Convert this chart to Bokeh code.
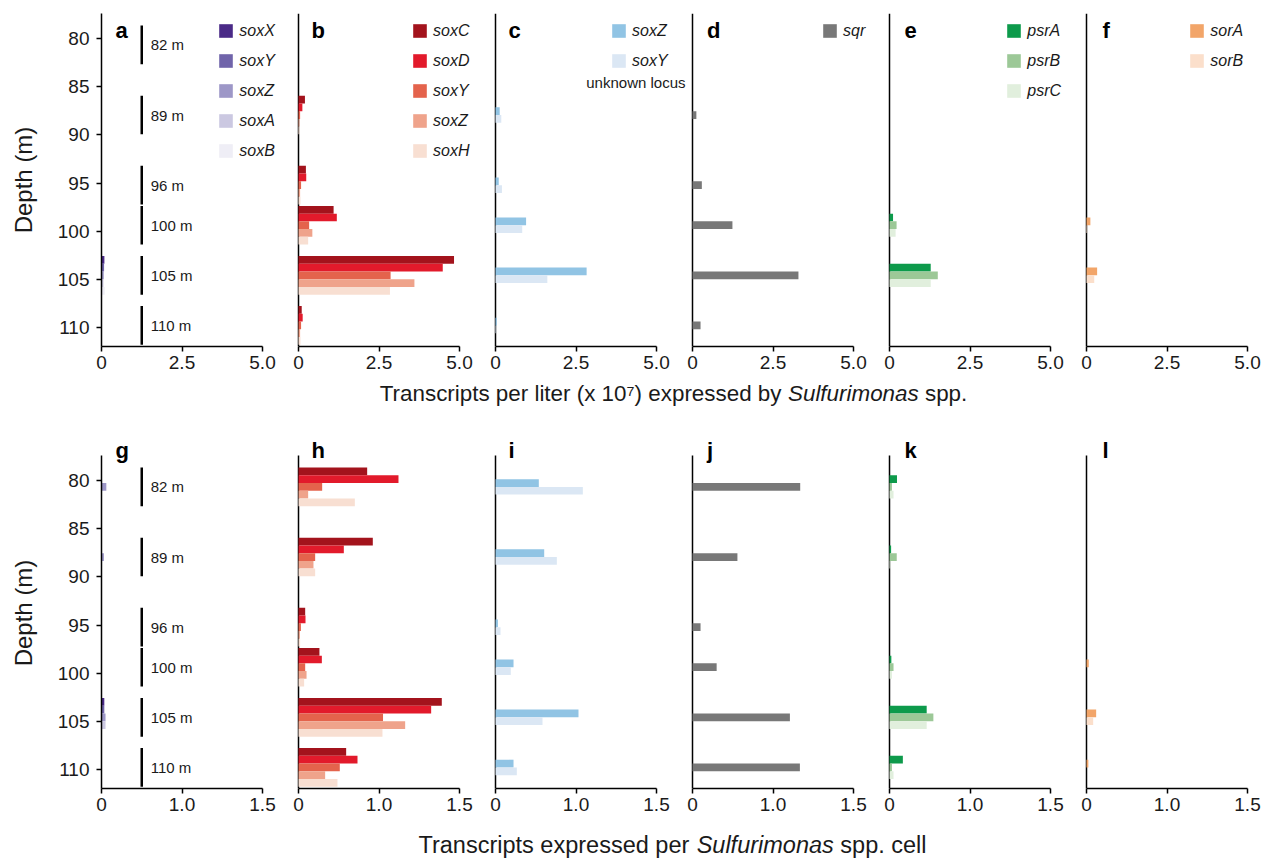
from bokeh.plotting import figure
from bokeh.models import Range1d, FixedTicker, Legend, LegendItem, Label
from bokeh.layouts import row, column
from bokeh.embed import file_html
from bokeh.resources import INLINE
from bokeh.core.properties import value

# ---------------- data ----------------
depths = [82, 89, 96, 100, 105, 110]
depth_labels = ["82 m", "89 m", "96 m", "100 m", "105 m", "110 m"]
depth_ticks = [80, 85, 90, 95, 100, 105, 110]

genes_a = ["soxX", "soxY", "soxZ", "soxA", "soxB"]
genes_b = ["soxC", "soxD", "soxY", "soxZ", "soxH"]
genes_c = ["soxZ", "soxY"]
genes_d = ["sqr"]
genes_e = ["psrA", "psrB", "psrC"]
genes_f = ["sorA", "sorB"]

# Transcripts per liter (x 10^7), one list per gene, ordered by depth
liter_a = [[0, 0, 0, 0, 0.09, 0],
           [0, 0, 0, 0, 0.08, 0],
           [0, 0, 0, 0, 0.07, 0],
           [0, 0, 0, 0, 0.06, 0],
           [0, 0, 0, 0, 0.10, 0]]
liter_b = [[0, 0.20, 0.23, 1.09, 4.83, 0.10],
           [0, 0.12, 0.24, 1.19, 4.48, 0.13],
           [0, 0.05, 0.08, 0.33, 2.86, 0.08],
           [0, 0.03, 0.05, 0.43, 3.60, 0.05],
           [0, 0.03, 0.06, 0.30, 2.84, 0.06]]
liter_c = [[0, 0.13, 0.10, 0.95, 2.83, 0.04],
           [0, 0.18, 0.20, 0.83, 1.61, 0.02]]
liter_d = [[0, 0.12, 0.29, 1.24, 3.29, 0.25]]
liter_e = [[0, 0, 0, 0.11, 1.28, 0],
           [0, 0, 0, 0.22, 1.50, 0],
           [0, 0, 0, 0.19, 1.28, 0]]
liter_f = [[0, 0, 0, 0.12, 0.33, 0],
           [0, 0, 0, 0.02, 0.24, 0]]

# Transcripts expressed per Sulfurimonas cell (drawn on the source's axis)
cell_g = [[0, 0, 0, 0, 0.035, 0],
          [0, 0, 0, 0, 0.035, 0],
          [0.06, 0.03, 0, 0, 0.05, 0],
          [0, 0, 0, 0, 0.05, 0],
          [0, 0, 0, 0, 0, 0]]
cell_h = [[0.853, 0.923, 0.083, 0.26, 1.78, 0.592],
          [1.242, 0.563, 0.087, 0.29, 1.648, 0.733],
          [0.294, 0.207, 0.03, 0.083, 1.05, 0.513],
          [0.12, 0.186, 0.017, 0.10, 1.325, 0.331],
          [0.70, 0.207, 0.02, 0.07, 1.043, 0.484]]
cell_i = [[0.538, 0.605, 0.03, 0.224, 1.031, 0.224],
          [1.085, 0.762, 0.062, 0.19, 0.584, 0.265]]
cell_j = [[1.338, 0.558, 0.10, 0.30, 1.21, 1.334]]
cell_k = [[0.093, 0.02, 0, 0.023, 0.462, 0.166],
          [0.03, 0.09, 0, 0.05, 0.545, 0.03],
          [0.05, 0.01, 0, 0.03, 0.462, 0.05]]
cell_l = [[0, 0, 0, 0.028, 0.12, 0.023],
          [0, 0, 0, 0, 0.083, 0]]

top_ticks = [0, 2.5, 5]
top_tick_labels = ["0", "2.5", "5.0"]
bottom_ticks = [0, 1, 2]
bottom_tick_labels = ["0", "1.0", "1.5"]

title_top = ["Transcripts per liter (x 10\u2077) expressed by", "Sulfurimonas", "spp."]
title_bottom = ["Transcripts expressed per", "Sulfurimonas", "spp. cell"]

# ---------------- styles / layout ----------------
colors_a = ["#4a2a87", "#7064aa", "#9d97c7", "#cbc8e1", "#efeef6"]
colors_b = ["#a3131c", "#e21a2b", "#e4634c", "#efa38b", "#f8dfd2"]
colors_c = ["#91c4e4", "#dbe7f4"]
colors_d = ["#787878"]
colors_e = ["#0d9a4b", "#9cc897", "#e1efdd"]
colors_f = ["#f2a569", "#fbdfcb"]

FONT = "Liberation Sans"
TXT = "#1a1a1a"
PAGE_W = 1262
AXW, AXH = 161, 333            # pixel extent of each panel's axes
Y_TOP, Y_BOTTOM = 77.43, 111.92
PXM = AXH / (Y_BOTTOM - Y_TOP)  # pixels per metre
BAR_H = 0.8
GROUP_SCALE, GROUP_OFFSET = 1.0377, -4.41
ZERO_X = [101, 298, 495, 692, 889, 1086]       # page x of each panel's 0
FRAME_L = [101, 292, 489, 686, 883, 1080]
FRAME_R = FRAME_L[1:] + [PAGE_W]
letter_page_x = [115, 311, 508, 706.5, 904, 1102]
legend_page_x = [219, 412.7, 611.7, 822.7, 1007, 1190]

AW = {'T': 611, 'r': 333, 'a': 556, 'n': 556, 's': 500, 'c': 500, 'i': 222,
      'p': 556, 't': 278, ' ': 278, 'e': 556, 'l': 222, '(': 333, 'x': 500,
      '1': 556, '0': 556, '\u2077': 333, ')': 333, 'd': 556, 'b': 556,
      'y': 500, 'S': 667, 'u': 556, 'f': 278, 'm': 833, 'o': 556, '.': 278}


def tw(s, size):
    return sum(AW.get(ch, 556) for ch in s) / 1000.0 * size


def centers():
    return [d * GROUP_SCALE + GROUP_OFFSET for d in depths]


def make_panel(idx, letter, genes, vals, colors, xmax, ticks, tick_labels,
               top_border, extra_top, bottom_border, letter_dy, legend, extra_label=None):
    first = idx == 0
    fw = FRAME_R[idx] - FRAME_L[idx]
    fh = AXH + extra_top
    x0 = (FRAME_L[idx] - ZERO_X[idx]) / AXW * xmax
    x1 = (FRAME_R[idx] - ZERO_X[idx]) / AXW * xmax
    p = figure(frame_width=fw, frame_height=fh,
               x_range=Range1d(x0, x1),
               y_range=Range1d(Y_BOTTOM, Y_TOP - extra_top / PXM),
               min_border_left=FRAME_L[0] if first else 0, min_border_right=0,
               min_border_top=top_border, min_border_bottom=bottom_border,
               output_backend="svg", toolbar_location=None,
               y_axis_location="left" if first else None)
    p.grid.visible = False
    p.outline_line_color = None
    p.background_fill_color = "white"
    p.border_fill_color = "white"

    ax = p.xaxis[0]
    ax.bounds = (0, xmax)
    ax.ticker = FixedTicker(ticks=ticks)
    ax.major_label_overrides = dict(zip(ticks, tick_labels))
    ax.major_tick_out = 5
    ax.major_tick_in = 0
    ax.minor_tick_out = 0
    ax.minor_tick_in = 0
    ax.axis_line_width = 1.5
    ax.axis_line_color = "black"
    ax.major_tick_line_width = 1.5
    ax.major_label_text_font = FONT
    ax.major_label_text_font_size = "19px"
    ax.major_label_text_color = TXT
    ax.major_label_standoff = 4

    if first:
        ay = p.yaxis[0]
        ay.bounds = (Y_TOP, Y_BOTTOM)
        ay.ticker = FixedTicker(ticks=depth_ticks)
        ay.major_tick_out = 5
        ay.major_tick_in = 0
        ay.minor_tick_out = 0
        ay.minor_tick_in = 0
        ay.axis_line_width = 1.5
        ay.major_tick_line_width = 1.5
        ay.major_label_text_font = FONT
        ay.major_label_text_font_size = "19px"
        ay.major_label_text_color = TXT
        ay.major_label_standoff = 7
        ay.axis_label = "Depth (m)"
        ay.axis_label_text_font = FONT
        ay.axis_label_text_font_size = "24px"
        ay.axis_label_text_font_style = "normal"
        ay.axis_label_text_color = TXT
        ay.axis_label_standoff = 18
    else:
        # the panel's own depth axis line (no ticks), from top to bottom of the axis
        p.segment(x0=0, x1=0, y0=Y_TOP, y1=Y_BOTTOM, line_color="black", line_width=1.5)

    n = len(genes)
    cs = centers()
    items = []
    for i, (g, v, col) in enumerate(zip(genes, vals, colors)):
        off = (i - (n - 1) / 2.0) * BAR_H
        ys = [c + off for c in cs]
        rr = p.hbar(y=ys, left=0, right=v, height=BAR_H,
                    fill_color=col, line_color=None)
        items.append(LegendItem(label=g, renderers=[rr]))

    if first:
        xs = xmax * 0.25
        p.segment(x0=xs, x1=xs, y0=[c - 2.0 for c in cs],
                  y1=[c + 2.0 for c in cs], line_color="black", line_width=2.5)
        p.text(x=xs, y=cs, text=depth_labels, x_offset=9,
               text_baseline="middle", text_align="left",
               text_font=value(FONT), text_font_size="15px", text_color=TXT)

    p.add_layout(Label(x=0, y=Y_TOP, x_offset=letter_page_x[idx] - ZERO_X[idx],
                       y_offset=letter_dy, text=letter, text_font=FONT,
                       text_font_style="bold", text_font_size="22px",
                       text_color="black", text_baseline="middle"))

    if legend:
        GW = 17
        inset = GW * 0.1
        item_h, sp = 20, 10
        total_h = n * item_h + (n - 1) * sp
        lx = legend_page_x[idx] - inset - FRAME_L[idx]
        ly = fh - (22.5 - 13 - inset) - total_h
        leg = Legend(items=items, location=(lx, ly), orientation="vertical",
                     glyph_width=GW, glyph_height=GW, label_height=item_h,
                     spacing=sp, padding=0, margin=0, label_standoff=5,
                     label_text_font=FONT, label_text_font_style="italic",
                     label_text_font_size="16px", label_text_color=TXT,
                     border_line_color=None, background_fill_alpha=0)
        p.add_layout(leg)

    if extra_label:
        p.add_layout(Label(x=0, y=Y_TOP, x_offset=685 - ZERO_X[idx],
                           y_offset=-69, text=extra_label, text_font=FONT,
                           text_font_size="15px", text_color=TXT,
                           text_align="right", text_baseline="middle"))
    return p


def make_strip(h, pieces, size, center_x, mid_y):
    s = figure(frame_width=PAGE_W, frame_height=h,
               x_range=Range1d(0, PAGE_W), y_range=Range1d(0, h),
               min_border=0, output_backend="svg", toolbar_location=None,
               x_axis_location=None, y_axis_location=None)
    s.grid.visible = False
    s.outline_line_color = None
    widths = [tw(t, size) for t in pieces]
    sp = tw(" ", size)
    total = widths[0] + sp + widths[1] + sp + widths[2]
    x0 = center_x - total / 2.0
    xs = [x0, x0 + widths[0] + sp, x0 + widths[0] + sp + widths[1] + sp]
    styles = ["normal", "italic", "normal"]
    for t, x, st in zip(pieces, xs, styles):
        s.text(x=[x], y=[mid_y], text=[t], text_font=value(FONT),
               text_font_size=f"{size}px", text_font_style=st,
               text_baseline="middle", text_align="left", text_color=TXT)
    return s


top_specs = [("a", genes_a, liter_a, colors_a), ("b", genes_b, liter_b, colors_b),
             ("c", genes_c, liter_c, colors_c), ("d", genes_d, liter_d, colors_d),
             ("e", genes_e, liter_e, colors_e), ("f", genes_f, liter_f, colors_f)]
bottom_specs = [("g", genes_a, cell_g, colors_a), ("h", genes_b, cell_h, colors_b),
                ("i", genes_c, cell_i, colors_c), ("j", genes_d, cell_j, colors_d),
                ("k", genes_e, cell_k, colors_e), ("l", genes_f, cell_l, colors_f)]

# row 1: page y 0..377 (axes 13..346); strip 377..420; row 2: 420..821 (axes 455..788)
top_row = [make_panel(i, L, g, v, c, 5, top_ticks, top_tick_labels,
                      13, 0, 31, -16.6, True,
                      "unknown locus" if L == "c" else None)
           for i, (L, g, v, c) in enumerate(top_specs)]
bottom_row = [make_panel(i, L, g, v, c, 2, bottom_ticks, bottom_tick_labels,
                         17, 18, 33, 5, False)
              for i, (L, g, v, c) in enumerate(bottom_specs)]

strip1 = make_strip(43, title_top, 22.4, 673, 27.5)
strip2 = make_strip(37, title_bottom, 23.5, 672, 14)

layout = column(row(*top_row), strip1, row(*bottom_row), strip2)
open("out.html", "w").write(file_html(layout, INLINE))
